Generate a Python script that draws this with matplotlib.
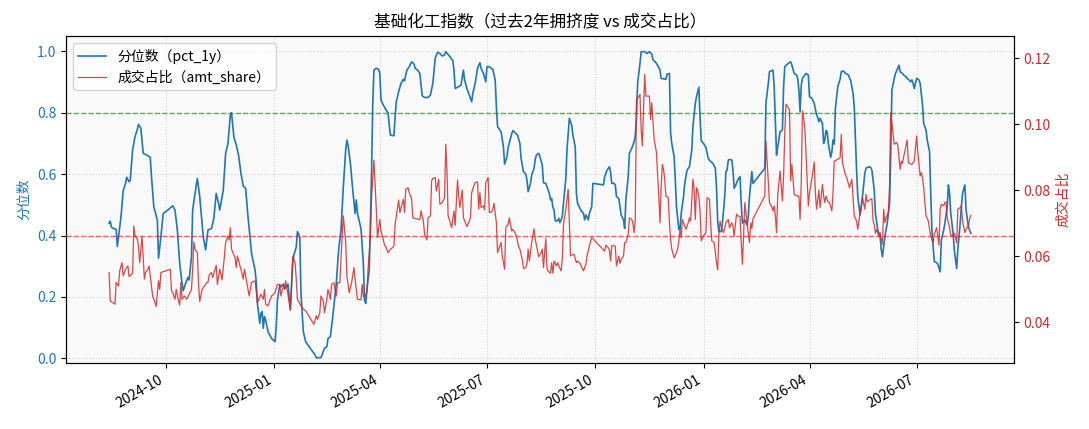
import matplotlib
matplotlib.use('Agg')
import matplotlib.pyplot as plt
import matplotlib.dates as mdates
import pandas as pd

plt.rcParams['font.family'] = ['Noto Sans CJK SC', 'DejaVu Sans']
plt.rcParams['axes.unicode_minus'] = False

base_date = '2024-10-01'

pct_days = [
    -48, -47, -46, -43, -42, -41, -40, -38, -36, -34, -33, -31, -30, -28, -26, -24, -23, -21, -19, -16,
    -13, -12, -10, -7, -6, -4, -2, 2, 6, 8, 10, 12, 14, 15, 17, 19, 20, 22, 23, 25,
    27, 29, 31, 32, 34, 36, 39, 41, 43, 45, 46, 49, 51, 53,
    55, 56, 58, 60, 62, 64, 66, 68, 70, 72, 73, 76, 77, 78, 80, 81, 82, 83, 84, 85,
    87, 90, 93, 94, 95, 97, 98, 100, 102, 104, 105, 106, 108, 109, 111, 112, 114, 115, 117, 119,
    127, 128, 132, 135, 137, 138, 140, 142, 145, 147, 149, 151, 153, 154, 155, 157, 159, 161,
    162, 163, 166, 168, 169, 170, 171, 173, 174, 175, 176, 177, 179, 181, 182, 183, 185, 187, 189, 190,
    191, 194, 195, 196, 198, 200, 202, 203, 204, 205, 207, 209, 211, 212, 214, 216, 218, 220, 223, 225,
    227, 228, 229, 231, 233, 235, 237, 238, 241, 244, 245, 246, 248, 251, 253, 254, 256, 258, 260, 261,
    263, 265, 267,
    268, 270, 272, 273, 275, 278, 280, 281, 282, 285, 287, 288, 290, 291, 294, 295, 297, 299, 301, 302,
    304, 306, 307, 308, 310, 311, 313, 314, 315, 317, 318, 320, 321, 323, 324, 326, 327, 328, 329, 330,
    331, 333, 334, 335, 337, 338, 340, 341, 343, 345, 346, 348, 349, 350, 353, 355, 356, 357, 359, 360,
    362, 363, 372, 373,
    375, 377, 378, 379, 381, 382, 383, 385, 386, 387, 389, 390, 391, 393, 394, 396, 398, 399, 400, 401,
    403, 404, 407, 409, 411, 413, 414, 416, 418, 420, 421, 425, 426, 428, 429, 430, 432, 433, 434, 436,
    437, 438, 440, 441, 443, 445, 447, 448, 450, 451, 453, 454, 455, 457, 459, 461, 463, 465, 467, 468,
    469, 470, 472, 473, 475, 476, 477, 478, 479,
    481, 482, 483, 485, 486, 488, 489, 490, 492, 494, 495, 496, 498, 499, 509, 510, 512, 513, 516, 517,
    519, 520, 522, 524, 525, 526, 529, 531, 532, 534, 536, 537, 538, 539, 540, 541, 544, 546, 547, 549,
    550, 551, 553, 554, 555, 556, 558, 559, 560, 561, 562, 563, 565, 566, 567, 568, 569, 571, 573, 574,
    576, 577, 580, 582, 584,
    585, 587, 588, 590, 591, 592, 594, 595, 597, 599, 600, 602, 603, 605, 607, 608, 609, 611, 613, 615,
    616, 617, 619, 620, 622, 623, 624, 626, 627, 629, 630, 631, 633, 634, 635, 636, 638, 640, 641, 643,
    644, 646, 647, 649, 650, 651, 653, 655, 656, 658, 659, 661, 662, 664, 665, 666, 667, 669, 670, 672,
    673, 675, 676, 677, 679, 680, 682, 684,
]
pct_1y = [
    .440, .447, .427, .421, .420, .364, .396, .456, .546, .570, .590, .575, .580, .679, .722, .746, .762, .749, .668, .662,
    .655, .592, .494, .450, .326, .396, .472, .483, .497, .483, .418, .309, .244, .220, .244, .264, .255, .331, .483, .537,
    .586, .527, .440, .396, .353, .418, .423, .456, .537, .505, .483, .548, .668, .700,
    .793, .800, .722, .695, .662, .603, .561, .554, .461, .385, .342, .288, .250, .179, .114, .147, .152, .098, .136, .125,
    .087, .065, .054, .103, .190, .239, .233, .242, .228, .242, .199, .157, .309, .337, .362, .413, .396, .212, .087, .054,
    .011, .002, .002, .033, .038, .065, .071, .136, .244, .353, .418, .559, .679, .711, .695, .635, .548, .472,
    .516, .472, .423, .309, .190, .179, .223, .288, .440, .613, .831, .939, .945, .941, .928, .841, .825, .811, .800, .760,
    .727, .725, .787, .836, .869, .896, .909, .904, .923, .939, .950, .966, .959, .945, .939, .928, .855, .850, .850, .858,
    .896, .934, .977, .997, .993, .985, .988, .999, .985, .970, .939, .879, .883, .890, .939, .907, .879, .858, .836, .863,
    .896, .945, .963,
    .945, .928, .901, .950, .950, .941, .907, .820, .755, .738, .689, .633, .657, .687, .731, .742, .735, .727, .700, .651,
    .608, .600, .581, .543, .570, .597, .619, .648, .662, .668, .657, .630, .572, .570, .559, .537, .516, .521, .492, .483,
    .448, .448, .456, .442, .461, .505, .586, .679, .782, .760, .727, .689, .537, .505, .481, .472, .451, .467, .451, .472,
    .494, .570, .565, .592,
    .613, .624, .608, .570, .570, .565, .527, .521, .494, .467, .451, .423, .516, .592, .668, .684, .706, .724, .787, .896,
    .961, .999, .999, .993, .999, .991, .972, .966, .955, .939, .912, .909, .926, .928, .733, .700, .657, .581, .494, .420,
    .420, .472, .527, .570, .613, .624, .679, .757, .831, .852, .883, .787, .709, .700, .687, .651, .641, .635, .619, .559,
    .445, .413, .413, .440, .527, .608, .613, .646, .648,
    .646, .613, .554, .570, .581, .592, .505, .440, .451, .434, .461, .527, .608, .570, .619, .831, .896, .934, .939, .885,
    .662, .689, .738, .744, .885, .950, .961, .966, .955, .928, .923, .912, .874, .803, .890, .912, .928, .923, .852, .847,
    .839, .831, .793, .785, .771, .782, .765, .700, .711, .742, .738, .700, .655, .673, .711, .698, .814, .885, .909, .934,
    .936, .930, .923, .905, .863,
    .820, .613, .527, .467, .494, .527, .603, .619, .624, .622, .613, .548, .472, .418, .396, .353, .331, .396, .440, .505,
    .668, .874, .912, .928, .945, .955, .934, .928, .923, .917, .912, .909, .901, .907, .896, .879, .912, .907, .896, .825,
    .765, .744, .711, .673, .537, .418, .315, .312, .307, .282, .385, .418, .440, .494, .565, .537, .472, .407, .353, .293,
    .353, .440, .494, .537, .565, .483, .429, .407,
]

amt_days = [
    -48, -47, -45, -43, -42, -40, -39, -37, -36, -34, -32, -31, -29, -28, -27, -26, -24, -23, -22, -20,
    -18, -17, -15, -14, -12, -11, -9, -8, -6, -5, -4, 0, 4, 5, 6, 8, 9, 11, 12, 13,
    14, 16, 18, 20, 22, 23, 24, 25, 27, 28, 29, 31, 33, 35, 36, 37, 39, 40, 42, 43,
    44, 46, 48, 50, 51, 53, 54,
    55, 56, 59, 60, 61, 64, 66, 67, 68, 71, 73, 76, 77, 78, 81, 83, 84, 85, 87, 90,
    93, 95, 97, 98, 100, 101, 102, 105, 106, 108, 110, 111, 112, 115, 117, 119, 126, 128, 129, 131,
    132, 134, 135, 137, 138, 140, 141, 143, 145, 146, 148, 150, 151, 153, 154,
    156, 158, 160, 161, 163, 166, 167, 168, 170, 171, 172, 174, 175, 177, 179, 180, 182, 183, 185, 186,
    187, 189, 191, 193, 194, 195, 196, 198, 199, 200, 202, 203, 204, 206, 207, 209, 210, 213, 216, 217,
    219, 220, 222, 223, 225, 226, 227, 229, 230, 232, 233, 235, 237, 238, 239, 240, 242, 243, 244, 245,
    246, 248, 249, 250, 252, 253, 255, 256, 258, 259, 260, 262, 263, 265,
    266, 267, 268, 270, 271, 272, 274, 275, 277, 278, 279, 281, 282, 283, 285, 286, 288, 289, 291, 292,
    294, 295, 297, 298, 300, 301, 303, 304, 306, 307, 308, 309, 311, 313, 314, 316, 317, 319, 320, 321,
    323, 324, 325, 327, 328, 329, 330, 332, 333, 334, 336, 337, 338, 340, 342, 343, 344, 346, 347, 349,
    350, 352, 353, 355, 357, 358, 360, 362, 373,
    374, 376, 377, 378, 379, 381, 382, 383, 385, 386, 387, 389, 390, 391, 393, 394, 396, 397, 398, 399,
    400, 402, 403, 404, 405, 407, 408, 410, 411, 412, 413, 415, 417, 418, 419, 420, 421, 422, 423, 424,
    425, 427, 428, 429, 430, 432, 434, 435, 436, 437, 438, 439, 441, 442, 444, 445, 446, 448, 449, 450,
    451, 452, 453, 454, 455, 457, 459, 460, 462, 463, 464, 466, 468, 469, 470, 471, 472, 474, 476, 478,
    479, 481, 482, 483, 485, 486, 488, 489, 490, 491, 492, 493, 495, 496, 497, 498, 499, 509, 510, 512,
    513, 515, 516, 517, 518, 519, 520, 521, 522, 524, 525, 526, 527, 529, 530, 531, 532, 534, 535, 537,
    538, 539, 540, 541, 542, 543, 544, 546, 547, 549, 551, 552, 553, 554, 555, 556, 558, 559, 560, 561,
    563, 564, 566, 567, 568, 571, 573, 574, 575, 577, 579, 581, 583, 585,
    587, 588, 590, 591, 592, 594, 595, 596, 598, 600, 601, 602, 603, 604, 606, 607, 608, 609, 610, 611,
    612, 614, 615, 616, 618, 619, 621, 622, 624, 625, 626, 627, 628, 630, 631, 632, 634, 635, 636, 638,
    639, 641, 642, 643, 644, 646, 648, 649, 650, 652, 653, 655, 656, 657, 658, 659, 661, 662, 663, 664,
    666, 667, 668, 670, 671, 672, 673, 675, 676, 677, 679, 680, 682, 683, 684,
]
amt_share = [
    .0551, .0465, .0460, .0455, .0521, .0510, .0556, .0581, .0541, .0561, .0571, .0539, .0546, .0549, .0692, .0662, .0652, .0632, .0581, .0660,
    .0531, .0551, .0561, .0571, .0510, .0480, .0460, .0448, .0526, .0500, .0551, .0556, .0561, .0497, .0490, .0470, .0500, .0465, .0452, .0521,
    .0470, .0480, .0470, .0485, .0500, .0561, .0644, .0622, .0611, .0515, .0463, .0500, .0510, .0521, .0521, .0543, .0551, .0536, .0561, .0573,
    .0515, .0561, .0529, .0601, .0642, .0662, .0650,
    .0687, .0622, .0596, .0566, .0601, .0561, .0531, .0561, .0541, .0480, .0521, .0526, .0495, .0460, .0485, .0470, .0500, .0455, .0450, .0480,
    .0490, .0515, .0515, .0480, .0510, .0500, .0526, .0460, .0440, .0601, .0581, .0531, .0470, .0450, .0440, .0435, .0394, .0420, .0409, .0429,
    .0480, .0465, .0429, .0470, .0500, .0470, .0515, .0520, .0480, .0520, .0520, .0662, .0723, .0642, .0541,
    .0490, .0520, .0566, .0531, .0470, .0468, .0515, .0478, .0482, .0490, .0561, .0662, .0783, .0892, .0743, .0657, .0712, .0677, .0650, .0634,
    .0630, .0611, .0622, .0627, .0632, .0697, .0723, .0771, .0733, .0748, .0773, .0733, .0803, .0808, .0793, .0775, .0717, .0714, .0712, .0738,
    .0707, .0667, .0650, .0717, .0723, .0829, .0836, .0839, .0798, .0834, .0758, .0763, .0778, .0940, .0864, .0723, .0700, .0687, .0712, .0738,
    .0694, .0832, .0783, .0748, .0801, .0717, .0700, .0690, .0707, .0717, .0793, .0815, .0824, .0826,
    .0743, .0793, .0748, .0753, .0741, .0824, .0839, .0733, .0735, .0743, .0761, .0702, .0611, .0622, .0642, .0601, .0561, .0687, .0697, .0717,
    .0677, .0682, .0670, .0662, .0629, .0622, .0590, .0563, .0566, .0579, .0622, .0586, .0642, .0684, .0652, .0616, .0599, .0611, .0622, .0566,
    .0654, .0561, .0555, .0549, .0581, .0549, .0586, .0571, .0581, .0571, .0556, .0590, .0697, .0743, .0803, .0702, .0601, .0606, .0606, .0581,
    .0586, .0579, .0571, .0556, .0576, .0601, .0632, .0657, .0616,
    .0634, .0626, .0620, .0586, .0632, .0632, .0630, .0571, .0601, .0579, .0591, .0601, .0642, .0642, .0667, .0717, .0712, .0700, .0672, .0712,
    .1076, .1084, .1091, .0985, .0935, .1152, .1086, .1086, .1086, .1015, .1066, .0955, .0915, .0844, .0783, .0702, .0813, .0879, .0864, .0834,
    .0783, .0778, .0702, .0652, .0622, .0596, .0611, .0622, .0647, .0682, .0657, .0712, .0692, .0682, .0702, .0717, .0707, .0834, .0803, .0712,
    .0808, .0801, .0781, .0740, .0647, .0662, .0672, .0778, .0773, .0702, .0647, .0642, .0581, .0559, .0662, .0707, .0690, .0672, .0702, .0712,
    .0687, .0702, .0692, .0662, .0728, .0723, .0721, .0642, .0576, .0662, .0763, .0733, .0670, .0642, .0702, .0684, .0714, .0783, .0950, .0824,
    .0763, .0750, .0738, .0753, .0723, .0672, .0783, .0824, .0859, .0768, .0844, .0975, .1061, .1051, .1044, .0829, .0879, .0788, .0785, .0783,
    .0783, .0712, .0824, .1041, .1018, .0990, .0915, .0753, .0793, .0834, .0886, .0793, .0743, .0773, .0801, .0748, .0818, .0783, .0763, .0783,
    .0763, .0763, .0738, .0793, .0889, .0894, .0899, .0970, .0884, .0854, .0834, .0808, .0834, .0723,
    .0707, .0682, .0733, .0753, .0778, .0743, .0788, .0765, .0771, .0775, .0707, .0697, .0670, .0682, .0660, .0672, .0652, .0637, .0743, .0702,
    .0717, .0733, .0813, .1036, .0970, .0940, .0945, .0937, .0864, .0889, .0882, .0902, .0919, .0953, .0884, .0882, .0879, .0884, .0889, .0965,
    .0915, .0844, .0854, .0839, .0808, .0723, .0707, .0682, .0662, .0640, .0667, .0687, .0662, .0634, .0743, .0758, .0753, .0763, .0765, .0717,
    .0687, .0664, .0662, .0670, .0660, .0640, .0743, .0748, .0753, .0707, .0672, .0682, .0692, .0714, .0724,
]

high_line = 0.8
low_line = 0.4

pct_dates = pd.Timestamp(base_date) + pd.to_timedelta(pct_days, unit='D')
amt_dates = pd.Timestamp(base_date) + pd.to_timedelta(amt_days, unit='D')

fig, ax = plt.subplots(figsize=(10.89, 4.29), dpi=100)
fig.subplots_adjust(left=0.0606, right=0.931, top=0.916, bottom=0.154)
ax.set_facecolor('#f9f9f9')

l1, = ax.plot(pct_dates, pct_1y, color='tab:blue', lw=1.2, label='分位数（pct_1y）')
# reference levels
ax.axhline(high_line, color='green', ls='--', lw=1.0, alpha=0.6)
ax.axhline(low_line, color='red', ls='--', lw=1.0, alpha=0.6)
ax.set_ylim(-0.015, 1.05)
ax.set_ylabel('分位数', color='tab:blue')
ax.tick_params(axis='y', labelcolor='tab:blue')
ax.grid(True, ls=':', alpha=0.5)

ax2 = ax.twinx()
l2, = ax2.plot(amt_dates, amt_share, color='tab:red', lw=0.9, alpha=0.85, label='成交占比（amt_share）')
ax2.set_ylim(0.0277, 0.1268)
ax2.set_yticks([0.04, 0.06, 0.08, 0.10, 0.12])
ax2.set_ylabel('成交占比', color='tab:red')
ax2.tick_params(axis='y', labelcolor='tab:red')

ax.xaxis.set_major_locator(mdates.MonthLocator(bymonth=[1, 4, 7, 10]))
ax.xaxis.set_major_formatter(mdates.DateFormatter('%Y-%m'))
for lab in ax.get_xticklabels():
    lab.set_rotation(30)
    lab.set_ha('right')

ax.legend(handles=[l1, l2], loc='upper left', fontsize=10)
ax.set_title('基础化工指数（过去2年拥挤度 vs 成交占比）', fontsize=12)

fig.savefig('out.png', dpi=100)
